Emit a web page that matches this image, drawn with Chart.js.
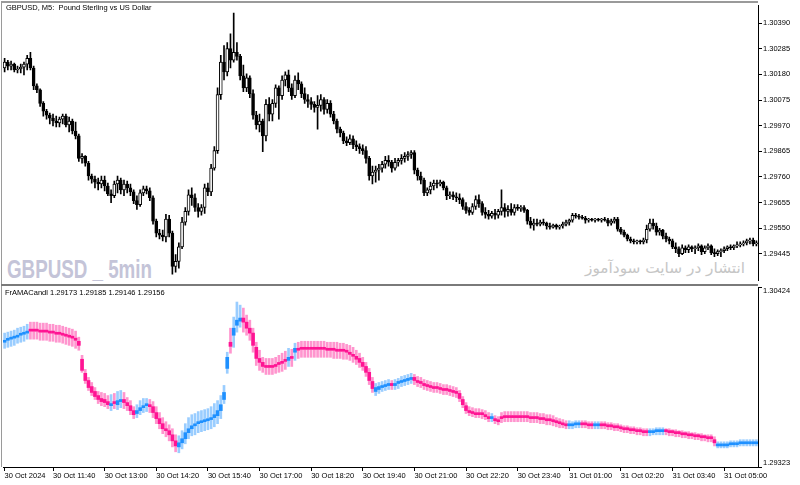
<!DOCTYPE html>
<html>
<head>
<meta charset="utf-8">
<script src="https://cdn.jsdelivr.net/npm/chart.js@4.4.1/dist/chart.umd.min.js"></script>
<style>
body{margin:0;background:#fff;width:800px;height:485px;overflow:hidden;position:relative;font-family:"Liberation Sans",Arial,sans-serif}
canvas{position:absolute;left:0}
#topChart{top:0}
#botChart{top:286px}
.line{position:absolute;background:#9a9a9a}
.txt{position:absolute;white-space:pre;color:#000;font-size:7.5px;line-height:9px}
.wm{position:absolute;white-space:nowrap;transform-origin:0 0}
</style>
</head>
<body>
<div class="wm" id="wm1" style="left:7px;top:255px;font:bold 25px 'Liberation Sans Narrow','Liberation Sans',sans-serif;color:#c4c4d8">GBPUSD _ 5min</div>
<div class="wm" id="wm2" dir="rtl" style="left:585px;top:259px;font:15px 'DejaVu Sans',sans-serif;color:#c6c6c6">انتشار در سایت سودآموز</div>

<canvas id="topChart" width="800" height="286"></canvas>
<canvas id="botChart" width="800" height="199"></canvas>

<div class="line" style="left:1px;top:1px;width:757px;height:2px"></div>
<div class="line" style="left:1px;top:1px;width:1px;height:466px"></div>
<div class="line" style="left:1px;top:284px;width:757px;height:2px;background:#7a7a7a"></div>

<div class="txt" style="left:6px;top:3px">GBPUSD, M5:  Pound Sterling vs US Dollar</div>
<div class="txt" style="left:5px;top:288px">FrAMACandl 1.29173 1.29185 1.29146 1.29156</div>

<script>
// price chart, GBPUSD M5, 30 Oct 10:25 -> 31 Oct 05:50
var topOpen = [
1.30206,1.30230,1.30214,1.30222,1.30198,1.30202,1.30210,1.30222,1.30246,1.30206,
1.30133,1.30117,1.30061,1.30029,1.30013,1.30001,1.29989,1.29981,1.29997,1.30009,
1.29973,1.29989,1.29948,1.29928,1.29836,1.29844,1.29816,1.29764,1.29751,1.29739,
1.29731,1.29747,1.29723,1.29691,1.29683,1.29731,1.29747,1.29707,1.29731,1.29715,
1.29699,1.29663,1.29647,1.29695,1.29711,1.29703,1.29675,1.29579,1.29530,1.29522,
1.29514,1.29587,1.29530,1.29394,1.29414,1.29474,1.29575,1.29619,1.29687,1.29675,
1.29635,1.29619,1.29635,1.29715,1.29699,1.29796,1.29868,1.30097,1.30230,1.30190,
1.30286,1.30238,1.30270,1.30254,1.30174,1.30125,1.30166,1.30101,1.30013,1.29973,
1.29989,1.29928,1.30057,1.30017,1.30061,1.30125,1.30093,1.30157,1.30178,1.30125,
1.30093,1.30157,1.30141,1.30101,1.30077,1.30069,1.30057,1.30045,1.30053,1.30077,
1.30037,1.30061,1.30017,1.29989,1.29956,1.29940,1.29908,1.29900,1.29916,1.29892,
1.29884,1.29876,1.29868,1.29836,1.29764,1.29780,1.29788,1.29796,1.29812,1.29828,
1.29820,1.29796,1.29820,1.29828,1.29836,1.29844,1.29852,1.29860,1.29788,1.29764,
1.29747,1.29695,1.29707,1.29723,1.29735,1.29731,1.29739,1.29715,1.29683,1.29687,
1.29679,1.29675,1.29667,1.29639,1.29623,1.29615,1.29639,1.29667,1.29651,1.29615,
1.29607,1.29599,1.29611,1.29603,1.29619,1.29635,1.29619,1.29627,1.29615,1.29635,
1.29631,1.29635,1.29623,1.29579,1.29563,1.29571,1.29567,1.29575,1.29571,1.29559,
1.29554,1.29563,1.29554,1.29559,1.29567,1.29575,1.29583,1.29603,1.29599,1.29595,
1.29591,1.29583,1.29587,1.29583,1.29587,1.29583,1.29587,1.29583,1.29571,1.29579,
1.29587,1.29546,1.29534,1.29522,1.29506,1.29498,1.29494,1.29498,1.29494,1.29502,
1.29546,1.29571,1.29559,1.29534,1.29542,1.29518,1.29506,1.29498,1.29474,1.29466,
1.29446,1.29470,1.29462,1.29474,1.29466,1.29470,1.29478,1.29454,1.29470,1.29478,
1.29450,1.29446,1.29454,1.29458,1.29466,1.29474,1.29470,1.29478,1.29482,1.29486,
1.29490,1.29498,1.29502,1.29486];
var topHigh = [
1.30246,1.30238,1.30234,1.30226,1.30214,1.30222,1.30230,1.30258,1.30270,1.30214,
1.30141,1.30121,1.30069,1.30037,1.30021,1.30017,1.30009,1.30005,1.30017,1.30017,
1.30005,1.29997,1.29985,1.29936,1.29856,1.29848,1.29824,1.29772,1.29764,1.29755,
1.29764,1.29764,1.29735,1.29707,1.29743,1.29764,1.29755,1.29747,1.29743,1.29731,
1.29707,1.29683,1.29707,1.29723,1.29723,1.29715,1.29683,1.29587,1.29546,1.29542,
1.29607,1.29603,1.29538,1.29442,1.29490,1.29595,1.29635,1.29707,1.29715,1.29691,
1.29651,1.29647,1.29731,1.29735,1.29812,1.29884,1.30125,1.30258,1.30298,1.30310,
1.30346,1.30431,1.30310,1.30262,1.30218,1.30182,1.30174,1.30117,1.30029,1.30017,
1.29997,1.30077,1.30085,1.30077,1.30137,1.30133,1.30174,1.30190,1.30198,1.30141,
1.30174,1.30186,1.30149,1.30125,1.30097,1.30085,1.30069,1.30093,1.30097,1.30085,
1.30077,1.30073,1.30029,1.29997,1.29964,1.29948,1.29924,1.29932,1.29928,1.29908,
1.29896,1.29892,1.29884,1.29844,1.29804,1.29804,1.29812,1.29824,1.29844,1.29848,
1.29828,1.29836,1.29836,1.29852,1.29860,1.29864,1.29868,1.29868,1.29796,1.29780,
1.29755,1.29715,1.29739,1.29747,1.29747,1.29747,1.29743,1.29723,1.29699,1.29699,
1.29695,1.29691,1.29675,1.29655,1.29635,1.29651,1.29683,1.29687,1.29659,1.29635,
1.29623,1.29619,1.29627,1.29627,1.29707,1.29651,1.29643,1.29651,1.29647,1.29647,
1.29643,1.29643,1.29627,1.29595,1.29587,1.29587,1.29583,1.29587,1.29575,1.29571,
1.29567,1.29567,1.29563,1.29575,1.29583,1.29587,1.29611,1.29611,1.29607,1.29603,
1.29599,1.29591,1.29591,1.29591,1.29591,1.29591,1.29595,1.29591,1.29587,1.29595,
1.29595,1.29554,1.29542,1.29526,1.29514,1.29506,1.29502,1.29502,1.29510,1.29563,
1.29587,1.29587,1.29571,1.29550,1.29546,1.29530,1.29514,1.29506,1.29490,1.29474,
1.29482,1.29478,1.29482,1.29478,1.29478,1.29486,1.29482,1.29478,1.29486,1.29482,
1.29466,1.29462,1.29466,1.29474,1.29478,1.29482,1.29482,1.29494,1.29494,1.29498,
1.29506,1.29510,1.29510,1.29498];
var topLow = [
1.30190,1.30198,1.30198,1.30190,1.30186,1.30186,1.30178,1.30198,1.30198,1.30117,
1.30105,1.30049,1.30009,1.29997,1.29977,1.29969,1.29965,1.29965,1.29977,1.29965,
1.29944,1.29936,1.29916,1.29824,1.29816,1.29804,1.29747,1.29735,1.29715,1.29707,
1.29715,1.29703,1.29683,1.29655,1.29675,1.29695,1.29691,1.29683,1.29695,1.29683,
1.29651,1.29627,1.29639,1.29683,1.29691,1.29663,1.29567,1.29514,1.29506,1.29498,
1.29494,1.29514,1.29362,1.29370,1.29386,1.29466,1.29563,1.29603,1.29643,1.29619,
1.29595,1.29603,1.29611,1.29683,1.29683,1.29788,1.29856,1.30077,1.30157,1.30174,
1.30206,1.30230,1.30238,1.30157,1.30109,1.30109,1.30085,1.29997,1.29956,1.29944,
1.29864,1.29908,1.29989,1.29989,1.30045,1.29997,1.30077,1.30133,1.30109,1.30077,
1.30085,1.30117,1.30085,1.30061,1.30045,1.30037,1.30025,1.29956,1.30029,1.30017,
1.30021,1.30005,1.29977,1.29940,1.29924,1.29896,1.29888,1.29892,1.29876,1.29868,
1.29856,1.29852,1.29816,1.29747,1.29731,1.29739,1.29747,1.29780,1.29796,1.29804,
1.29780,1.29788,1.29804,1.29812,1.29820,1.29828,1.29836,1.29772,1.29747,1.29731,
1.29683,1.29683,1.29691,1.29707,1.29715,1.29723,1.29707,1.29667,1.29671,1.29667,
1.29659,1.29651,1.29627,1.29611,1.29603,1.29607,1.29627,1.29635,1.29603,1.29591,
1.29587,1.29591,1.29587,1.29591,1.29603,1.29595,1.29599,1.29603,1.29603,1.29623,
1.29619,1.29615,1.29567,1.29550,1.29542,1.29559,1.29559,1.29563,1.29546,1.29546,
1.29550,1.29546,1.29546,1.29550,1.29559,1.29563,1.29575,1.29591,1.29587,1.29587,
1.29571,1.29575,1.29579,1.29575,1.29579,1.29575,1.29579,1.29559,1.29563,1.29571,
1.29538,1.29526,1.29514,1.29498,1.29490,1.29486,1.29486,1.29486,1.29486,1.29490,
1.29538,1.29546,1.29522,1.29522,1.29506,1.29494,1.29486,1.29466,1.29450,1.29434,
1.29442,1.29450,1.29450,1.29454,1.29446,1.29458,1.29442,1.29446,1.29462,1.29442,
1.29434,1.29438,1.29434,1.29450,1.29458,1.29462,1.29462,1.29470,1.29474,1.29478,
1.29482,1.29486,1.29478,1.29478];
var topClose = [
1.30230,1.30214,1.30222,1.30198,1.30202,1.30210,1.30222,1.30246,1.30206,1.30133,
1.30117,1.30061,1.30029,1.30013,1.30001,1.29989,1.29981,1.29997,1.30009,1.29973,
1.29989,1.29948,1.29928,1.29836,1.29844,1.29816,1.29764,1.29751,1.29739,1.29731,
1.29747,1.29723,1.29691,1.29683,1.29731,1.29747,1.29707,1.29731,1.29715,1.29699,
1.29663,1.29647,1.29695,1.29711,1.29703,1.29675,1.29579,1.29530,1.29522,1.29514,
1.29587,1.29530,1.29394,1.29414,1.29474,1.29575,1.29619,1.29687,1.29675,1.29635,
1.29619,1.29635,1.29715,1.29699,1.29796,1.29868,1.30097,1.30230,1.30190,1.30286,
1.30238,1.30270,1.30254,1.30174,1.30125,1.30166,1.30101,1.30013,1.29973,1.29989,
1.29928,1.30057,1.30017,1.30061,1.30125,1.30093,1.30157,1.30178,1.30125,1.30093,
1.30157,1.30141,1.30101,1.30077,1.30069,1.30057,1.30045,1.30053,1.30077,1.30037,
1.30061,1.30017,1.29989,1.29956,1.29940,1.29908,1.29900,1.29916,1.29892,1.29884,
1.29876,1.29868,1.29836,1.29764,1.29780,1.29788,1.29796,1.29812,1.29828,1.29820,
1.29796,1.29820,1.29828,1.29836,1.29844,1.29852,1.29860,1.29788,1.29764,1.29747,
1.29695,1.29707,1.29723,1.29735,1.29731,1.29739,1.29715,1.29683,1.29687,1.29679,
1.29675,1.29667,1.29639,1.29623,1.29615,1.29639,1.29667,1.29651,1.29615,1.29607,
1.29599,1.29611,1.29603,1.29619,1.29635,1.29619,1.29627,1.29615,1.29635,1.29631,
1.29635,1.29623,1.29579,1.29563,1.29571,1.29567,1.29575,1.29571,1.29559,1.29554,
1.29563,1.29554,1.29559,1.29567,1.29575,1.29583,1.29603,1.29599,1.29595,1.29591,
1.29583,1.29587,1.29583,1.29587,1.29583,1.29587,1.29583,1.29571,1.29579,1.29587,
1.29546,1.29534,1.29522,1.29506,1.29498,1.29494,1.29498,1.29494,1.29502,1.29546,
1.29571,1.29559,1.29534,1.29542,1.29518,1.29506,1.29498,1.29474,1.29466,1.29446,
1.29470,1.29462,1.29474,1.29466,1.29470,1.29478,1.29454,1.29470,1.29478,1.29450,
1.29446,1.29454,1.29458,1.29466,1.29474,1.29470,1.29478,1.29482,1.29486,1.29490,
1.29498,1.29502,1.29486,1.29490];

// FrAMACandle sub window
var botOpen = [
1.30086,1.30098,1.30105,1.30111,1.30117,1.30129,1.30135,1.30142,1.30160,1.30160,
1.30160,1.30154,1.30154,1.30154,1.30148,1.30148,1.30142,1.30142,1.30135,1.30135,
1.30129,1.30123,1.30111,1.30092,1.29982,1.29896,1.29852,1.29815,1.29785,1.29760,
1.29742,1.29736,1.29723,1.29698,1.29723,1.29704,1.29723,1.29736,1.29717,1.29698,
1.29668,1.29650,1.29668,1.29686,1.29698,1.29704,1.29692,1.29656,1.29619,1.29588,
1.29557,1.29545,1.29520,1.29483,1.29446,1.29471,1.29496,1.29533,1.29557,1.29575,
1.29588,1.29594,1.29600,1.29606,1.29613,1.29625,1.29637,1.29668,1.29736,1.29926,
1.30086,1.30129,1.30190,1.30215,1.30234,1.30209,1.30172,1.30142,1.30055,1.29987,
1.29963,1.29944,1.29938,1.29938,1.29944,1.29957,1.29963,1.29975,1.29975,1.29994,
1.30025,1.30043,1.30049,1.30049,1.30049,1.30049,1.30049,1.30049,1.30049,1.30049,
1.30043,1.30043,1.30043,1.30037,1.30037,1.30037,1.30031,1.30025,1.30012,1.30000,
1.29987,1.29963,1.29938,1.29902,1.29846,1.29785,1.29797,1.29809,1.29815,1.29821,
1.29834,1.29821,1.29834,1.29840,1.29846,1.29852,1.29858,1.29871,1.29852,1.29840,
1.29834,1.29821,1.29815,1.29809,1.29809,1.29803,1.29797,1.29797,1.29791,1.29785,
1.29779,1.29773,1.29736,1.29698,1.29668,1.29656,1.29650,1.29650,1.29650,1.29643,
1.29631,1.29619,1.29619,1.29606,1.29625,1.29631,1.29631,1.29631,1.29631,1.29631,
1.29631,1.29631,1.29631,1.29625,1.29625,1.29625,1.29619,1.29619,1.29613,1.29613,
1.29606,1.29600,1.29594,1.29588,1.29581,1.29575,1.29575,1.29581,1.29581,1.29588,
1.29588,1.29581,1.29581,1.29575,1.29575,1.29581,1.29581,1.29575,1.29575,1.29569,
1.29569,1.29563,1.29557,1.29557,1.29551,1.29551,1.29545,1.29545,1.29539,1.29539,
1.29533,1.29533,1.29539,1.29539,1.29539,1.29545,1.29539,1.29539,1.29533,1.29533,
1.29527,1.29527,1.29520,1.29520,1.29514,1.29514,1.29508,1.29508,1.29502,1.29502,
1.29490,1.29452,1.29452,1.29452,1.29452,1.29459,1.29459,1.29459,1.29465,1.29465,
1.29465,1.29465,1.29465,1.29465];
var botHigh = [
1.30142,1.30148,1.30154,1.30160,1.30172,1.30178,1.30184,1.30196,1.30209,1.30209,
1.30209,1.30203,1.30203,1.30203,1.30196,1.30196,1.30190,1.30190,1.30184,1.30178,
1.30172,1.30166,1.30154,1.30117,1.30006,1.29920,1.29871,1.29840,1.29809,1.29785,
1.29779,1.29773,1.29760,1.29766,1.29773,1.29785,1.29791,1.29779,1.29748,1.29729,
1.29692,1.29704,1.29729,1.29742,1.29742,1.29736,1.29723,1.29692,1.29656,1.29625,
1.29600,1.29581,1.29557,1.29520,1.29514,1.29545,1.29588,1.29625,1.29643,1.29650,
1.29662,1.29668,1.29674,1.29680,1.29692,1.29711,1.29729,1.29760,1.29822,1.30025,
1.30172,1.30240,1.30332,1.30313,1.30295,1.30252,1.30221,1.30172,1.30086,1.30037,
1.29994,1.29987,1.29987,1.29987,1.29994,1.30006,1.30019,1.30031,1.30049,1.30043,
1.30080,1.30086,1.30092,1.30092,1.30092,1.30092,1.30092,1.30092,1.30092,1.30092,
1.30086,1.30086,1.30086,1.30086,1.30080,1.30080,1.30073,1.30067,1.30055,1.30037,
1.30019,1.29994,1.29963,1.29926,1.29871,1.29834,1.29840,1.29846,1.29852,1.29858,
1.29852,1.29858,1.29865,1.29877,1.29883,1.29889,1.29896,1.29889,1.29877,1.29871,
1.29858,1.29852,1.29846,1.29840,1.29840,1.29834,1.29827,1.29827,1.29821,1.29815,
1.29809,1.29791,1.29754,1.29717,1.29692,1.29686,1.29680,1.29680,1.29674,1.29668,
1.29656,1.29650,1.29637,1.29631,1.29656,1.29662,1.29662,1.29662,1.29662,1.29662,
1.29662,1.29662,1.29662,1.29656,1.29656,1.29656,1.29650,1.29650,1.29643,1.29643,
1.29637,1.29625,1.29619,1.29613,1.29606,1.29606,1.29600,1.29606,1.29606,1.29606,
1.29606,1.29600,1.29600,1.29600,1.29600,1.29600,1.29600,1.29594,1.29594,1.29588,
1.29588,1.29581,1.29575,1.29575,1.29569,1.29569,1.29563,1.29563,1.29557,1.29557,
1.29557,1.29557,1.29563,1.29563,1.29563,1.29557,1.29557,1.29551,1.29551,1.29545,
1.29545,1.29539,1.29539,1.29533,1.29533,1.29527,1.29527,1.29520,1.29520,1.29520,
1.29508,1.29477,1.29477,1.29477,1.29477,1.29483,1.29483,1.29483,1.29490,1.29490,
1.29490,1.29490,1.29490,1.29490];
var botLow = [
1.30049,1.30055,1.30061,1.30067,1.30080,1.30086,1.30092,1.30105,1.30105,1.30105,
1.30105,1.30098,1.30098,1.30098,1.30092,1.30092,1.30086,1.30086,1.30080,1.30073,
1.30067,1.30061,1.30049,1.30037,1.29902,1.29834,1.29791,1.29760,1.29736,1.29711,
1.29698,1.29692,1.29680,1.29668,1.29680,1.29674,1.29686,1.29680,1.29668,1.29643,
1.29619,1.29625,1.29643,1.29656,1.29662,1.29656,1.29625,1.29588,1.29557,1.29527,
1.29508,1.29483,1.29446,1.29416,1.29410,1.29434,1.29465,1.29496,1.29514,1.29520,
1.29533,1.29539,1.29545,1.29551,1.29557,1.29569,1.29588,1.29619,1.29711,1.29896,
1.30019,1.30055,1.30148,1.30178,1.30148,1.30129,1.30098,1.30025,1.29944,1.29914,
1.29902,1.29889,1.29889,1.29889,1.29896,1.29902,1.29908,1.29920,1.29938,1.29938,
1.29975,1.29987,1.29994,1.29994,1.29994,1.29994,1.29994,1.29994,1.29994,1.29994,
1.29994,1.29994,1.29987,1.29987,1.29987,1.29982,1.29982,1.29975,1.29963,1.29950,
1.29932,1.29914,1.29877,1.29827,1.29779,1.29760,1.29773,1.29785,1.29791,1.29797,
1.29797,1.29797,1.29803,1.29815,1.29821,1.29827,1.29834,1.29827,1.29815,1.29809,
1.29797,1.29791,1.29785,1.29779,1.29779,1.29773,1.29766,1.29766,1.29760,1.29754,
1.29748,1.29723,1.29686,1.29650,1.29637,1.29631,1.29625,1.29625,1.29619,1.29613,
1.29600,1.29600,1.29588,1.29581,1.29594,1.29600,1.29600,1.29600,1.29600,1.29600,
1.29600,1.29600,1.29600,1.29594,1.29594,1.29594,1.29588,1.29588,1.29581,1.29581,
1.29575,1.29569,1.29563,1.29563,1.29557,1.29557,1.29557,1.29563,1.29563,1.29563,
1.29563,1.29557,1.29557,1.29557,1.29557,1.29557,1.29557,1.29551,1.29551,1.29545,
1.29545,1.29539,1.29533,1.29533,1.29527,1.29527,1.29520,1.29520,1.29514,1.29514,
1.29514,1.29520,1.29520,1.29520,1.29520,1.29520,1.29514,1.29514,1.29508,1.29508,
1.29502,1.29502,1.29496,1.29496,1.29490,1.29490,1.29483,1.29483,1.29477,1.29477,
1.29452,1.29440,1.29440,1.29440,1.29440,1.29446,1.29446,1.29446,1.29452,1.29452,
1.29452,1.29452,1.29452,1.29452];
var botClose = [
1.30098,1.30105,1.30111,1.30117,1.30129,1.30135,1.30142,1.30154,1.30154,1.30154,
1.30154,1.30148,1.30148,1.30148,1.30142,1.30142,1.30135,1.30135,1.30129,1.30123,
1.30117,1.30111,1.30098,1.30067,1.29914,1.29852,1.29809,1.29779,1.29754,1.29736,
1.29723,1.29717,1.29704,1.29711,1.29711,1.29729,1.29736,1.29717,1.29698,1.29668,
1.29643,1.29668,1.29686,1.29698,1.29704,1.29692,1.29656,1.29619,1.29588,1.29557,
1.29545,1.29520,1.29483,1.29452,1.29471,1.29496,1.29533,1.29557,1.29575,1.29581,
1.29594,1.29600,1.29606,1.29613,1.29625,1.29643,1.29668,1.29704,1.29779,1.29994,
1.30061,1.30172,1.30221,1.30234,1.30209,1.30172,1.30142,1.30067,1.29987,1.29963,
1.29938,1.29932,1.29932,1.29932,1.29938,1.29950,1.29957,1.29969,1.29994,1.29987,
1.30049,1.30037,1.30043,1.30043,1.30043,1.30043,1.30043,1.30043,1.30043,1.30043,
1.30037,1.30037,1.30037,1.30031,1.30031,1.30031,1.30025,1.30012,1.30000,1.29982,
1.29963,1.29938,1.29902,1.29852,1.29803,1.29809,1.29815,1.29821,1.29827,1.29834,
1.29821,1.29834,1.29840,1.29852,1.29858,1.29865,1.29871,1.29852,1.29840,1.29834,
1.29821,1.29815,1.29809,1.29803,1.29803,1.29797,1.29791,1.29791,1.29785,1.29779,
1.29773,1.29742,1.29704,1.29668,1.29656,1.29650,1.29643,1.29643,1.29643,1.29631,
1.29619,1.29625,1.29606,1.29600,1.29619,1.29625,1.29625,1.29625,1.29625,1.29625,
1.29625,1.29625,1.29625,1.29619,1.29619,1.29619,1.29613,1.29613,1.29606,1.29606,
1.29600,1.29594,1.29588,1.29581,1.29575,1.29581,1.29581,1.29588,1.29588,1.29581,
1.29581,1.29575,1.29575,1.29581,1.29581,1.29575,1.29575,1.29569,1.29569,1.29563,
1.29563,1.29557,1.29551,1.29551,1.29545,1.29545,1.29539,1.29539,1.29533,1.29533,
1.29539,1.29539,1.29545,1.29545,1.29545,1.29539,1.29533,1.29533,1.29527,1.29527,
1.29520,1.29520,1.29514,1.29514,1.29508,1.29508,1.29502,1.29502,1.29496,1.29496,
1.29471,1.29459,1.29459,1.29459,1.29459,1.29465,1.29465,1.29465,1.29471,1.29471,
1.29471,1.29471,1.29471,1.29471];

// axis labels
var topTicks = [1.30390,1.30285,1.30180,1.30075,1.29970,1.29865,1.29760,1.29655,1.29550,1.29445];
var botTicks = [1.30424,1.29323];
var xTickBars = [0,15,31,47,63,79,95,111,127,143,159,175,191,207,223];
var xTickLabels = ["30 Oct 2024","30 Oct 11:40","30 Oct 13:00","30 Oct 14:20","30 Oct 15:40",
  "30 Oct 17:00","30 Oct 18:20","30 Oct 19:40","30 Oct 21:00","30 Oct 22:20",
  "30 Oct 23:40","31 Oct 01:00","31 Oct 02:20","31 Oct 03:40","31 Oct 05:00"];

// bar times, 5 minute steps from 30 Oct 10:25
var barTimes = [];
var t0 = new Date(2024, 9, 30, 10, 25);
for (var i = 0; i < topClose.length; i++) {
  var d = new Date(t0.getTime() + i * 300000);
  barTimes.push(("0"+d.getHours()).slice(-2) + ":" + ("0"+d.getMinutes()).slice(-2));
}

var font = {family: "'Liberation Sans', Arial, sans-serif", size: 7.5};
var AXIS_W = 42;

function pairs(a, b){
  return a.map((v, i) => [v, b[i]]);
}

function yAxis(min, max, ticks, showLabels){
  return {
    position: 'right', min: min, max: max,
    afterBuildTicks: ax => { ax.ticks = ticks.map(v => ({value: v})); },
    afterFit: ax => { ax.width = AXIS_W; },
    grid: {drawOnChartArea: false, drawTicks: true, tickLength: 4, color: '#000'},
    border: {display: true, color: '#000', width: 1},
    ticks: {display: showLabels, padding: 1, color: '#000', font: font,
            callback: v => v.toFixed(5)}
  };
}

// --- top: price candles
var topBull = topClose.map((c, i) => c >= topOpen[i]);
new Chart(document.getElementById('topChart'), {
  type: 'bar',
  data: {
    labels: barTimes,
    datasets: [
      {data: pairs(topLow, topHigh), backgroundColor: '#000', barThickness: 1, grouped: false, order: 2},
      {data: pairs(topOpen, topClose),
       backgroundColor: topBull.map(b => b ? '#fff' : '#000'),
       borderColor: '#000', borderWidth: 1, borderSkipped: false,
       barThickness: 3, minBarLength: 1, grouped: false, order: 1}
    ]
  },
  options: {
    responsive: false, animation: false, events: [],
    layout: {padding: {left: 3, top: 4, bottom: 2, right: 0}},
    plugins: {legend: {display: false}, tooltip: {enabled: false}},
    scales: {
      x: {display: false},
      y: yAxis(1.29336, 1.30462, topTicks, true)
    }
  }
});

// --- bottom: FrAMA candles
var botBull = botClose.map((c, i) => c >= botOpen[i]);
var botLabels = {
  id: 'botLabels',
  afterDraw(chart){
    var ctx = chart.ctx, ys = chart.scales.y;
    ctx.save();
    ctx.fillStyle = '#000';
    ctx.font = "7.5px 'Liberation Sans', Arial, sans-serif";
    ctx.textBaseline = 'middle';
    ctx.fillText(botTicks[0].toFixed(5), ys.left + 5, ys.getPixelForValue(botTicks[0]) + 4);
    ctx.fillText(botTicks[1].toFixed(5), ys.left + 5, ys.getPixelForValue(botTicks[1]) - 4);
    ctx.restore();
  }
};
new Chart(document.getElementById('botChart'), {
  type: 'bar',
  data: {
    labels: barTimes,
    datasets: [
      {data: pairs(botLow, botHigh),
       backgroundColor: botBull.map(b => b ? 'rgba(30,144,255,0.45)' : 'rgba(255,20,147,0.45)'),
       barThickness: 2, grouped: false, order: 2},
      {data: pairs(botOpen, botClose),
       backgroundColor: botBull.map(b => b ? '#1e90ff' : '#ff1493'),
       barThickness: 3, minBarLength: 2, grouped: false, order: 1}
    ]
  },
  options: {
    responsive: false, animation: false, events: [],
    layout: {padding: {left: 3, top: 1, bottom: 0, right: 0}},
    plugins: {legend: {display: false}, tooltip: {enabled: false}},
    scales: {
      x: {
        afterBuildTicks: ax => { ax.ticks = xTickBars.map(v => ({value: v})); },
        afterFit: ax => { ax.height = 18; },
        grid: {drawOnChartArea: false, drawTicks: true, tickLength: 4, offset: false, color: '#000'},
        border: {display: true, color: '#000', width: 1},
        ticks: {autoSkip: false, maxRotation: 0, align: 'start', padding: 0, color: '#000', font: font,
                callback: (v, i) => xTickLabels[i]}
      },
      y: yAxis(1.29323, 1.30424, botTicks, false)
    }
  },
  plugins: [botLabels]
});

// squeeze watermarks to their width in the picture
function fit(id, w){
  var el = document.getElementById(id);
  var r = el.getBoundingClientRect().width;
  el.style.transform = 'scaleX(' + (w / r) + ')';
}
fit('wm1', 145);
fit('wm2', 160);
</script>
</body>
</html>
